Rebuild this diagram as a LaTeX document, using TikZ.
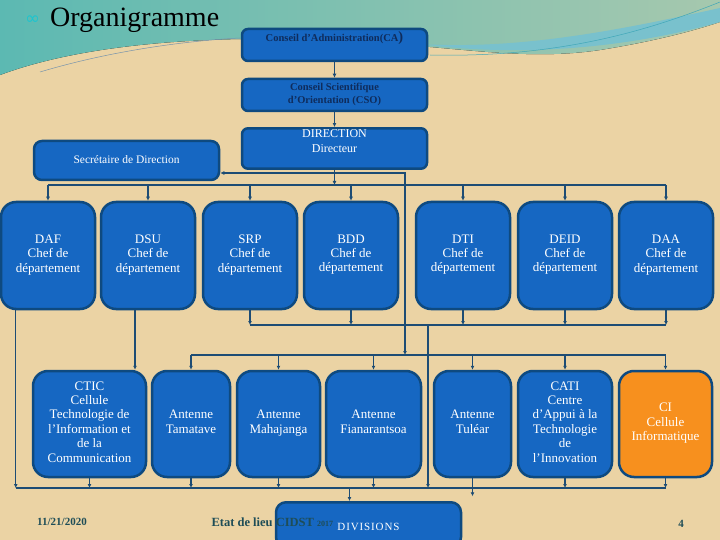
\documentclass[tikz,border=0pt]{standalone}
\usepackage{fontspec}
\setmainfont{Liberation Serif}
\newfontfamily\symfont{DejaVu Sans}
\usetikzlibrary{arrows.meta,positioning,calc}
\definecolor{orgtan}{HTML}{EBD3A4}
\definecolor{orgteal}{HTML}{5CB9B2}
\definecolor{orgcyan}{HTML}{1FC4CE}
\definecolor{orgsage}{HTML}{A6C8AE}
\definecolor{orgwave}{HTML}{3FA7B8}
\definecolor{orgblue}{HTML}{1667C2}
\definecolor{orgnavy}{HTML}{0E4A80}
\definecolor{orgline}{HTML}{1D4C74}
\definecolor{orgink}{HTML}{0F2C5C}
\definecolor{orgfoot}{HTML}{1E4D57}
\definecolor{orgorange}{HTML}{F7901E}
\tikzset{
  unit/.style={rectangle, rounded corners=15pt, draw=orgnavy, line width=2.5pt,
               fill=orgblue, text=white, align=center, inner sep=1pt,
               font=\fontsize{13}{14.4}\selectfont,
               execute at begin node=\strut, execute at end node=\strut},
  chef/.style={unit, minimum width=94pt, minimum height=107pt},
  cell/.style={unit, minimum height=106pt},
  board/.style={unit, rounded corners=6pt, minimum width=185pt, minimum height=32pt,
                text=orgink, font=\fontsize{10.5}{13}\selectfont\bfseries},
  ar/.style={-{Latex[length=4pt,width=4pt]}, draw=orgline, line width=1.3pt},
  twoway/.style={{Latex[length=4pt,width=4pt]}-{Latex[length=4pt,width=4pt]},
                 draw=orgline, line width=1.3pt},
  bus/.style={draw=orgline, line width=1.3pt},
  foot/.style={text=orgfoot, font=\fontsize{11}{13}\selectfont\bfseries},
}

\begin{document}
\begin{tikzpicture}[x=1pt,y=-1pt]
\useasboundingbox (0,0) rectangle (720,540);

% ---------- background ----------
\fill[orgtan] (0,0) rectangle (720,540);
\fill[left color=orgteal, right color=orgsage] (0,0) -- (720,0) -- (720,22)
  .. controls (690,32) and (650,42) .. (600,50)
  .. controls (520,62) and (450,45) .. (330,40)
  .. controls (200,35) and (80,45) .. (0,75) -- cycle;
\fill[orgwave!70] (420,44) .. controls (520,50) and (620,30) .. (720,8) -- (720,22)
  .. controls (650,42) and (540,60) .. (420,44) -- cycle;
\draw[orgline!60, line width=0.5pt] (40,72) .. controls (120,48) and (200,40) .. (240,38);
\draw[orgwave, line width=0.5pt] (430,55) .. controls (560,58) and (650,30) .. (720,2);

% ---------- title ----------
\node[anchor=base west, inner sep=0pt, text=orgcyan, font=\symfont\fontsize{18}{18}\selectfont]
  (bullet) at (25,25) {∞};
\node[anchor=base west, inner sep=0pt, font=\fontsize{28}{30}\selectfont]
  (title) at (50,27) {Organigramme};

% ---------- direction ----------
\node[board] (ca) at (334.5,45) {Conseil d’Administration(CA{\Large)}\\\mbox{}};
\node[board] (cso) at (334.5,95) {Conseil Scientifique\\d’Orientation (CSO)};
\node[board, minimum height=37pt, text=white, font=\fontsize{12}{15}\selectfont]
  (dir) at (334.5,148.5) {DIRECTION\\Directeur\\[-4pt]\mbox{}};
\node[board, rounded corners=8pt, minimum height=39pt, text=white,
      font=\fontsize{11.5}{13}\selectfont] (sec) at (126.5,160.5) {Secrétaire de Direction};

% ---------- departements ----------
\node[chef] (daf)  at (48,255.5)  {DAF\\Chef de\\département};
\node[chef] (dsu)  at (148,255.5) {DSU\\Chef de\\département};
\node[chef] (srp)  at (250,255.5) {SRP\\Chef de\\département};
\node[chef] (bdd)  at (351,255.5) {BDD\\Chef de\\département};
\node[chef] (dti)  at (463,255.5) {DTI\\Chef de\\département};
\node[chef] (deid) at (565,255.5) {DEID\\Chef de\\département};
\node[chef] (daa)  at (666,255.5) {DAA\\Chef de\\département};

% ---------- cellules et antennes ----------
\node[cell, minimum width=113pt] (ctic) at (89.5,424)
  {CTIC\\Cellule\\Technologie de\\l’Information et\\de la\\Communication};
\node[cell, minimum width=78pt] (tam) at (191,424) {Antenne\\Tamatave};
\node[cell, minimum width=83pt] (maj) at (278.5,424) {Antenne\\Mahajanga};
\node[cell, minimum width=95pt] (fia) at (373.5,424) {Antenne\\Fianarantsoa};
\node[cell, minimum width=77pt] (tul) at (472.5,424) {Antenne\\Tuléar};
\node[cell, minimum width=94pt] (cati) at (565,424)
  {CATI\\Centre\\d’Appui à la\\Technologie\\de\\l’Innovation};
\node[cell, minimum width=93pt, fill=orgorange] (ci) at (665.5,424)
  {CI\\Cellule\\Informatique};

\node[unit, rounded corners=10pt, minimum width=185pt, minimum height=45pt, anchor=north,
      font=\fontsize{11}{13}\selectfont] (div) at (368.5,501)
  {\mbox{}\\[3pt]\addfontfeature{LetterSpace=8}DIVISIONS};

% ---------- connectors ----------
\coordinate (bus1) at (0,185);
\coordinate (bus2) at (0,355);
\coordinate (bus3) at (0,325);
\coordinate (bus4) at (0,488);
\coordinate (sj) at (405,173);
\coordinate (cj) at (428,325);

\draw[ar] (ca) -- (cso);
\draw[ar] (cso) -- (dir);
\draw[ar] (dir.south) -- (dir.south |- bus1);
\draw[bus] (daf.north |- bus1) -- (daa.north |- bus1);
\foreach \n in {daf,dsu,srp,bdd,dti,deid,daa}
  \draw[ar] (\n.north |- bus1) -- (\n.north);

\draw[twoway] (sec.east |- sj) -- (sj) -- (sj |- bus2);
\draw[bus] (tam.north |- bus2) -- (ci.north |- bus2);
\foreach \n in {tam,maj,fia,tul,cati,ci}
  \draw[ar] (\n.north |- bus2) -- (\n.north);

\draw[bus] (srp.south |- bus3) -- (daa.south |- bus3);
\foreach \n in {srp,bdd,dti,deid,daa}
  \draw[ar] (\n.south) -- (\n.south |- bus3);
\draw[ar] (cj) -- (cj |- bus4);

\draw[ar] ([xshift=-13pt]dsu.south) -- ([xshift=-13pt]dsu.south |- ctic.north);
\draw[ar] ([xshift=16pt]daf.south west) -- ([xshift=16pt]daf.south west |- bus4);
\draw[bus] ([xshift=16pt]daf.south west |- bus4) -- (ci.south |- bus4);
\foreach \n in {ctic,tam,maj,fia,cati,ci}
  \draw[ar] (\n.south) -- (\n.south |- bus4);
\draw[ar] (tul.south) -- ++(0,18);
\draw[ar] ([xshift=-19pt]div.north |- bus4) -- ([xshift=-19pt]div.north);

% ---------- footer ----------
\node[foot] (date) at (62,522) {11/21/2020};
\node[foot, anchor=west, font=\fontsize{12.5}{14}\selectfont\bfseries] (etat) at (208,522)
  {Etat de lieu CIDST {\fontsize{8}{9}\selectfont 2017}};
\node[foot] (page) at (681,524) {4};
\end{tikzpicture}
\end{document}
